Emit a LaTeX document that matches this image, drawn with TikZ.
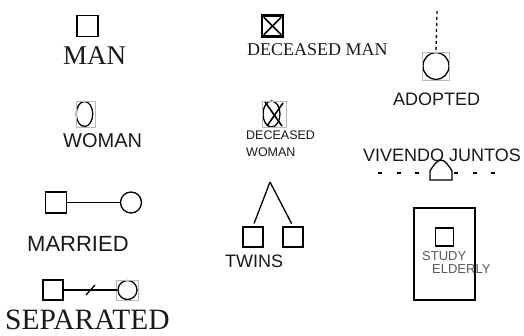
\documentclass[tikz,border=0pt]{standalone}
\usepackage{fontspec}
\setmainfont{Liberation Serif}
\setsansfont{Liberation Sans}
\usetikzlibrary{shapes.geometric}
\newcommand\myfs[1]{\fontsize{#1}{#1}\selectfont}
\begin{document}
\begin{tikzpicture}[x=1pt,y=-1pt,
  sq/.style={draw, line width=1.4pt, rectangle, minimum width=#1, minimum height=#1, inner sep=0pt},
  fem/.style 2 args={draw, line width=1.3pt, ellipse, inner sep=0pt, minimum width=#1, minimum height=#2},
  graybox/.style={draw=gray!55, line width=0.6pt},
  conn/.style={line width=1.3pt},
  lbl/.style={inner sep=0pt, anchor=base west, text=black!90, text depth=0pt}]
\useasboundingbox (0,0) rectangle (524,336);

% MAN
\node[sq=21pt] (man) at (87.5,26) {};
\node[lbl, font=\myfs{27}] (manl) at (63,65) {MAN};

% WOMAN
\node[fem={16.5pt}{25pt}] (wom) at (84.5,114) {};
\draw[graybox] (76,101) rectangle (95,127);
\node[lbl, font=\sffamily\myfs{20}] (woml) at (63,148) {WOMAN};

% DECEASED MAN
\node[sq=21pt, line width=2.4pt] (dm) at (272.5,26) {};
\draw[line width=1.5pt] ([shift={(3,3)}]dm.north west) -- ([shift={(-3,-3)}]dm.south east);
\draw[line width=1.5pt] ([shift={(-3,3)}]dm.north east) -- ([shift={(3,-3)}]dm.south west);
\node[lbl, font=\myfs{18}] (dml) at (247,56) {DECEASED MAN};

% DECEASED WOMAN
\node[fem={17pt}{26pt}] (dw) at (271.5,114) {};
\draw[graybox] (262,101) rectangle (286,127);
\draw[line width=1.6pt] (265,102) -- (282,126);
\draw[line width=1.6pt] (283,103) -- (267,126);
\node[lbl, font=\sffamily\myfs{12.5}] (dwl1) at (246,140) {DECEASED};
\node[lbl, font=\sffamily\myfs{12.5}] (dwl2) at (246,157) {WOMAN};

% ADOPTED
\coordinate (adtop) at (437,11);
\node[fem={26pt}{27pt}] (ad) at (436,66) {};
\draw[graybox] (ad.west |- ad.north) rectangle (ad.east |- ad.south);
\draw[conn, dashed] (adtop) -- (ad.north);
\node[lbl, font=\sffamily\myfs{18}] (adl) at (393,106) {ADOPTED};

% VIVENDO JUNTOS
\node[lbl, font=\sffamily\myfs{18}] (vjl) at (363,162) {VIVENDO JUNTOS};
\node[minimum width=22pt, minimum height=20pt, inner sep=0pt] (house) at (441,170) {};
\draw[line width=1.3pt] (430,180) -- (430,171)
  .. controls (433,166) and (437,160) .. (441,160)
  .. controls (445,160) and (449,166) .. (452,171)
  -- (452,180) -- cycle;
\coordinate (vl) at (378,173);
\coordinate (vr) at (495,173);
\draw[line width=1.4pt, dash pattern=on 4pt off 14.5pt] (vl) -- (vl -| house.west);
\draw[line width=1.4pt, dash pattern=on 4pt off 14.5pt] (vr) -- (vr -| house.east);

% MARRIED
\node[sq=21pt] (mm) at (56,202.5) {};
\node[fem={21pt}{21pt}] (mw) at (131,202.5) {};
\draw[conn] (mm) -- (mw);
\node[lbl, font=\sffamily\myfs{22}] (marl) at (27,252) {MARRIED};

% SEPARATED
\node[sq=20pt] (sm) at (53,290) {};
\node[fem={19pt}{19pt}] (sw) at (127.5,290) {};
\draw[graybox] ([xshift=-1pt]sw.west |- sw.north) rectangle ([xshift=1pt]sw.east |- sw.south);
\draw[conn] (sm) -- (sw);
\draw[conn] (86,295) -- (95,285);
\node[lbl, font=\myfs{29.5}] (sepl) at (5,329.5) {SEPARATED};

% TWINS
\coordinate (apex) at (270,182);
\node[sq=20pt] (t1) at (253,237) {};
\node[sq=20pt] (t2) at (293,237) {};
\draw[conn, shorten >=3pt] (apex) -- (t1.north);
\draw[conn, shorten >=3pt] (apex) -- (t2.north);
\node[lbl, font=\sffamily\myfs{18}] (twl) at (225,268) {TWINS};

% STUDY ELDERLY
\node[draw, line width=1.4pt, minimum width=61pt, minimum height=92pt, inner sep=0pt] (box) at (444.5,254) {};
\node[sq=18pt] (sq) at (444.5,237) {};
\node[lbl, font=\sffamily\myfs{13}, text=black!65] (stl) at (422,261) {STUDY};
\node[lbl, font=\sffamily\myfs{13}, text=black!65] (ell) at (432,273) {ELDERLY};
\end{tikzpicture}
\end{document}
